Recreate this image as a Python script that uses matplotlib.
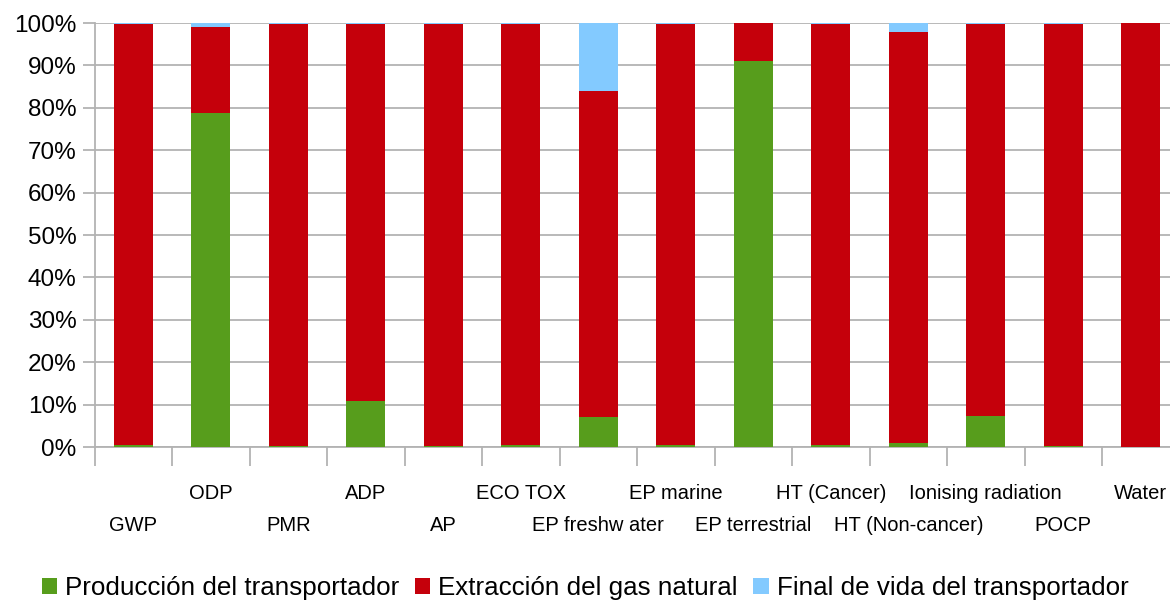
import matplotlib
matplotlib.use("Agg")
import matplotlib.pyplot as plt
import numpy as np
from matplotlib.ticker import FixedLocator, PercentFormatter

plt.rcParams['font.family'] = ['Liberation Sans', 'DejaVu Sans']

categories = ["GWP", "ODP", "PMR", "ADP", "AP", "ECO TOX", "EP freshw ater",
              "EP marine", "EP terrestrial", "HT (Cancer)", "HT (Non-cancer)",
              "Ionising radiation", "POCP", "Water"]
produccion = [0.5, 78.8, 0.3, 10.8, 0.3, 0.4, 7.0, 0.4, 91.0, 0.4, 0.9, 7.2, 0.3, 0.0]
extraccion = [99.3, 20.3, 99.5, 89.0, 99.5, 99.4, 77.0, 99.4, 8.9, 99.4, 97.0, 92.6, 99.5, 100.0]
final_vida = [0.2, 0.9, 0.2, 0.2, 0.2, 0.2, 16.0, 0.2, 0.1, 0.2, 2.1, 0.2, 0.2, 0.0]
series_names = ["Producción del transportador", "Extracción del gas natural",
                "Final de vida del transportador"]
colors = ["#579d1c", "#c5000b", "#83caff"]
yticks = list(range(0, 101, 10))

W, H = 1170, 603
fig = plt.figure(figsize=(W / 100, H / 100), dpi=100)
ax = fig.add_axes([94.5 / W, (H - 447) / H, 1085 / W, 424 / H])

x = np.arange(len(categories)) + 0.5
bottom = np.zeros(len(categories))
handles = []
for vals, c, name in zip([produccion, extraccion, final_vida], colors, series_names):
    b = ax.bar(x, vals, width=0.5, bottom=bottom, color=c, label=name, zorder=3)
    handles.append(b)
    bottom += np.array(vals)

ax.set_xlim(0, len(categories))
ax.set_ylim(0, 100)
ax.set_yticks(yticks)
ax.yaxis.set_major_formatter(PercentFormatter(decimals=0))
ax.grid(axis='y', color='#b3b3b3', linewidth=1.3, zorder=0)
ax.set_axisbelow(True)

for s in ['top', 'right']:
    ax.spines[s].set_visible(False)
ax.spines['left'].set_color('#b3b3b3')
ax.spines['bottom'].set_color('#b3b3b3')
ax.spines['left'].set_linewidth(1.3)
ax.spines['bottom'].set_linewidth(1.3)

ax.tick_params(axis='y', length=9, width=1.3, color='#b3b3b3', labelsize=17.5, pad=4,
               labelcolor='#000000')

# major ticks at boundaries, labels at centers (minor)
ax.xaxis.set_major_locator(FixedLocator(np.arange(len(categories) + 1)))
ax.xaxis.set_major_formatter(plt.NullFormatter())
ax.xaxis.set_minor_locator(FixedLocator(x))
ax.set_xticklabels(categories, minor=True)
ax.tick_params(axis='x', which='major', length=14, width=1.3, color='#b3b3b3')
ax.tick_params(axis='x', which='minor', length=0, labelsize=14.5)
for i, tk in enumerate(ax.xaxis.get_minor_ticks()):
    tk.set_pad(26.5 if i % 2 == 1 else 50.0)

leg = fig.legend(handles=handles, labels=series_names, loc='center',
                 bbox_to_anchor=(0.5, 1 - 588 / H), ncol=3, frameon=False,
                 fontsize=18.7, handlelength=0.6, handleheight=0.6,
                 handletextpad=0.3, columnspacing=0.6, borderaxespad=0)

fig.savefig("out.png", dpi=100)
